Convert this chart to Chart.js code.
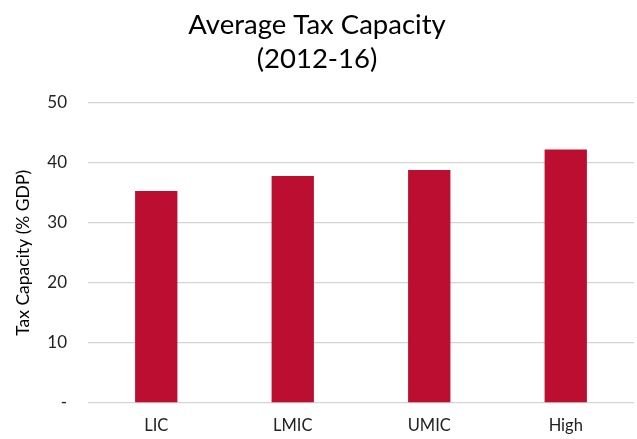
<!DOCTYPE html>
<html>
<head>
<meta charset="utf-8">
<script src="https://cdn.jsdelivr.net/npm/chart.js@4"></script>
<style>
  html, body { margin: 0; padding: 0; background: #fff; overflow: hidden; }
  #wrap { width: 637px; height: 439px; }
</style>
</head>
<body>
<div id="wrap"><canvas id="tax"></canvas></div>
<script>
var grupos = ['LIC', 'LMIC', 'UMIC', 'High'];
var capacidad = [35.3, 37.8, 38.8, 42.2];
var titulo = ['Average Tax Capacity', '(2012-16)'];
var eje_y = 'Tax Capacity (% GDP)';

var ctx = document.getElementById('tax').getContext('2d');
var chart_tax = new Chart(ctx, {
    type: 'bar',
    data: {
        labels: grupos,
        datasets: [{
            data: capacidad,
            backgroundColor: '#bb0e31',
            borderWidth: 0,
            barPercentage: 0.62,
            categoryPercentage: 0.5
        }]
    },
    options: {
        responsive: true,
        maintainAspectRatio: false,
        animation: false,
        layout: { padding: { left: 0, right: 3, top: 8, bottom: 0 } },
        plugins: {
            legend: { display: false },
            tooltip: { enabled: false },
            title: {
                display: true,
                text: titulo,
                color: '#000',
                font: { family: 'Lato', size: 27.5, weight: 'normal', lineHeight: 1.25 },
                padding: { top: 0, bottom: 26 }
            }
        },
        scales: {
            x: {
                grid: { display: false },
                border: { display: false },
                ticks: { color: '#222', font: { family: 'Lato', size: 16.5 }, padding: 5 },
                afterFit: function (scale) { scale.height = 36; }
            },
            y: {
                min: 0,
                max: 50,
                ticks: {
                    stepSize: 10,
                    color: '#222',
                    padding: 21,
                    font: { family: 'Lato', size: 17 },
                    callback: function (v) { return v === 0 ? '-' : v; }
                },
                grid: { color: '#d4d4d4', lineWidth: 1.3, drawTicks: false },
                border: { display: false },
                title: {
                    display: true,
                    text: eje_y,
                    color: '#000',
                    font: { family: 'Lato', size: 17.5 },
                    padding: { top: 13, bottom: 0 }
                },
                afterFit: function (scale) { scale.width = 88; }
            }
        }
    }
});
</script>
</body>
</html>
